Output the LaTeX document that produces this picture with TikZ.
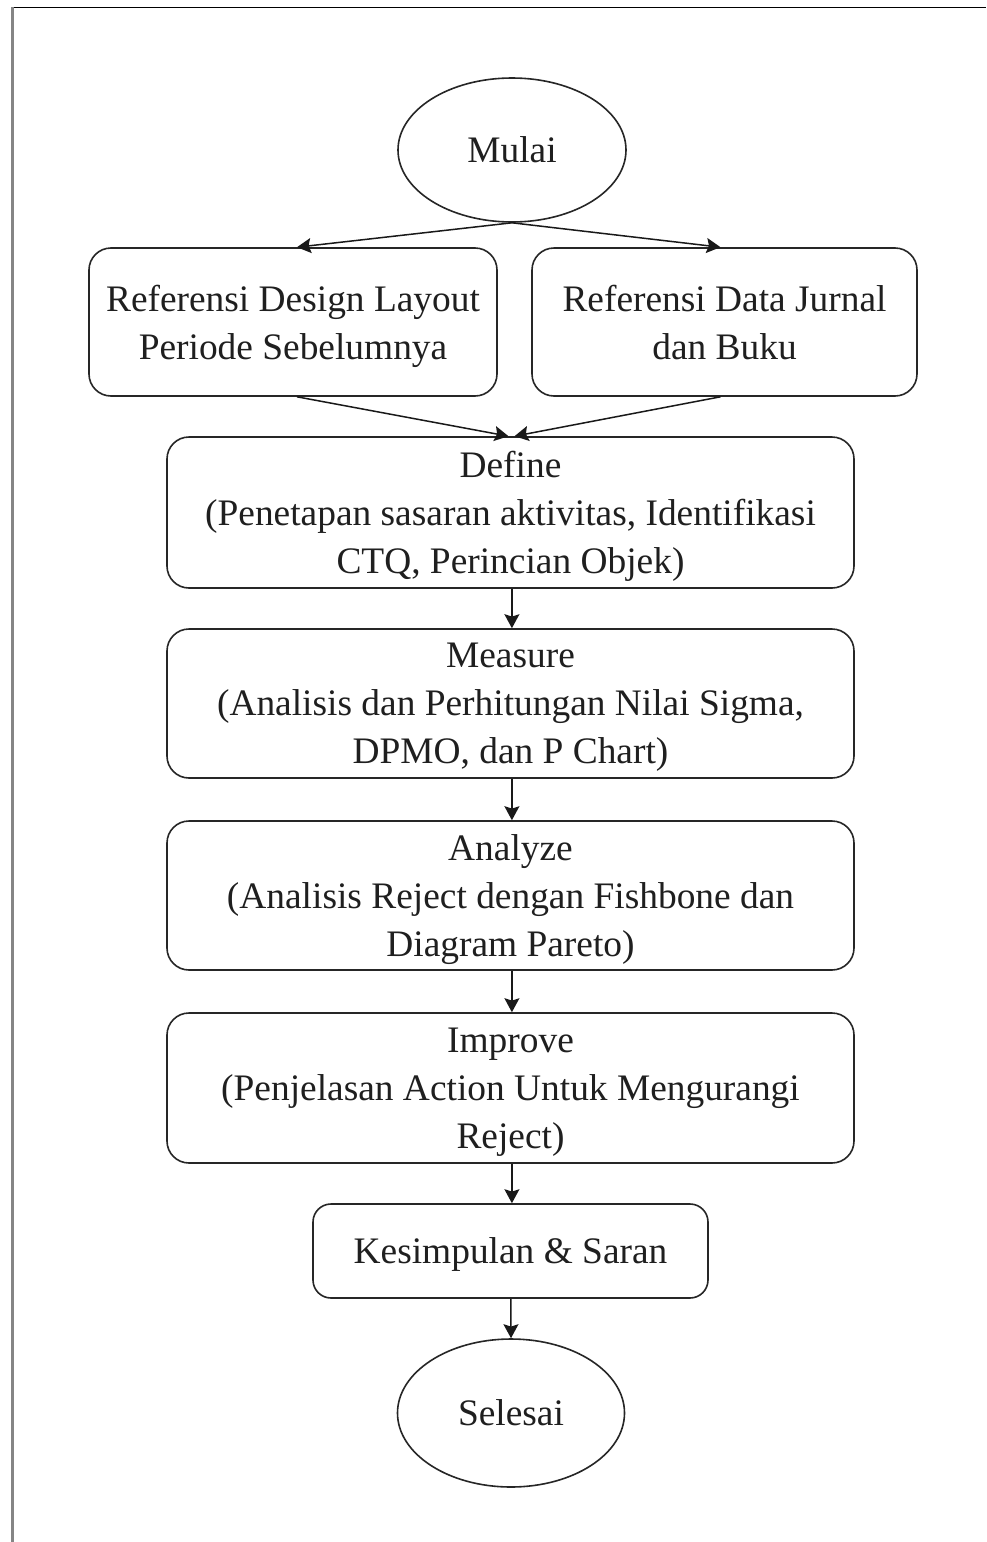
\documentclass[tikz,border=0pt]{standalone}
\usepackage{fontspec}
\setmainfont{Liberation Serif}
\usetikzlibrary{shapes.geometric,arrows.meta,calc}

\tikzset{
  txt/.style={font=\fontsize{18.7}{24}\selectfont, text=black!88, align=center},
  stepbox/.style={txt, draw=black!85, line width=0.8pt, rounded corners=11pt, inner sep=0pt, text depth=0pt},
  terminal/.style={txt, draw=black!85, line width=0.8pt, ellipse, inner sep=0pt},
  flow/.style={draw=black!90, line width=0.75pt, -{Stealth[length=7pt,width=7.5pt,inset=1.2pt]}}
}

\begin{document}
\begin{tikzpicture}[x=0.5pt,y=-0.5pt]
  % page frame
  \useasboundingbox (0,0) rectangle (986,1542);
  \fill[white] (0,0) rectangle (986,1542);
  \draw[black, line width=0.8pt] (11,7.5) -- (986,7.5);
  \draw[black!48, line width=1.3pt] (12.5,7) -- (12.5,1542);

  % nodes
  \node[terminal, minimum width=114pt, minimum height=72pt] (mulai) at (512,150) {Mulai};

  \node[stepbox, minimum width=204pt, minimum height=74pt] (ref1) at (293,322)
    {Referensi Design Layout\\Periode Sebelumnya};
  \node[stepbox, minimum width=192.5pt, minimum height=74pt] (ref2) at (724.5,322)
    {Referensi Data Jurnal\\dan Buku};

  \node[stepbox, minimum width=343.5pt, minimum height=75.5pt] (define) at (510.5,512.5)
    {Define\\(Penetapan sasaran aktivitas, Identifikasi\\CTQ, Perincian Objek)};
  \node[stepbox, minimum width=343.5pt, minimum height=74.5pt] (measure) at (510.5,703.5)
    {Measure\\(Analisis dan Perhitungan Nilai Sigma,\\DPMO, dan P Chart)};
  \node[stepbox, minimum width=343.5pt, minimum height=74.5pt] (analyze) at (510.5,895.5)
    {Analyze\\(Analisis Reject dengan Fishbone dan\\Diagram Pareto)};
  \node[stepbox, minimum width=343.5pt, minimum height=75pt] (improve) at (510.5,1088)
    {Improve\\(Penjelasan Action Untuk Mengurangi\\Reject)};

  \node[stepbox, minimum width=197.5pt, minimum height=47pt, rounded corners=9pt] (kesimpulan) at (510.5,1251)
    {Kesimpulan \& Saran};

  \node[terminal, minimum width=113.5pt, minimum height=74pt] (selesai) at (511,1413) {Selesai};

  % connectors
  \draw[flow] (mulai.south) -- ([xshift=2pt]ref1.north);
  \draw[flow] (mulai.south) -- ([xshift=-2pt]ref2.north);
  \draw[flow] ([xshift=2pt]ref1.south) -- ([xshift=-1pt]define.north);
  \draw[flow] ([xshift=-2pt]ref2.south) -- ([xshift=2pt]define.north);
  \draw[flow] ([xshift=0.7pt]define.south) -- ([xshift=0.7pt]measure.north);
  \draw[flow] ([xshift=0.7pt]measure.south) -- ([xshift=0.7pt]analyze.north);
  \draw[flow] ([xshift=0.7pt]analyze.south) -- ([xshift=0.7pt]improve.north);
  \draw[flow] ([xshift=0.7pt]improve.south) -- ([xshift=0.7pt]kesimpulan.north);
  \draw[flow] ([xshift=0.2pt]kesimpulan.south) -- (selesai.north);
\end{tikzpicture}
\end{document}
